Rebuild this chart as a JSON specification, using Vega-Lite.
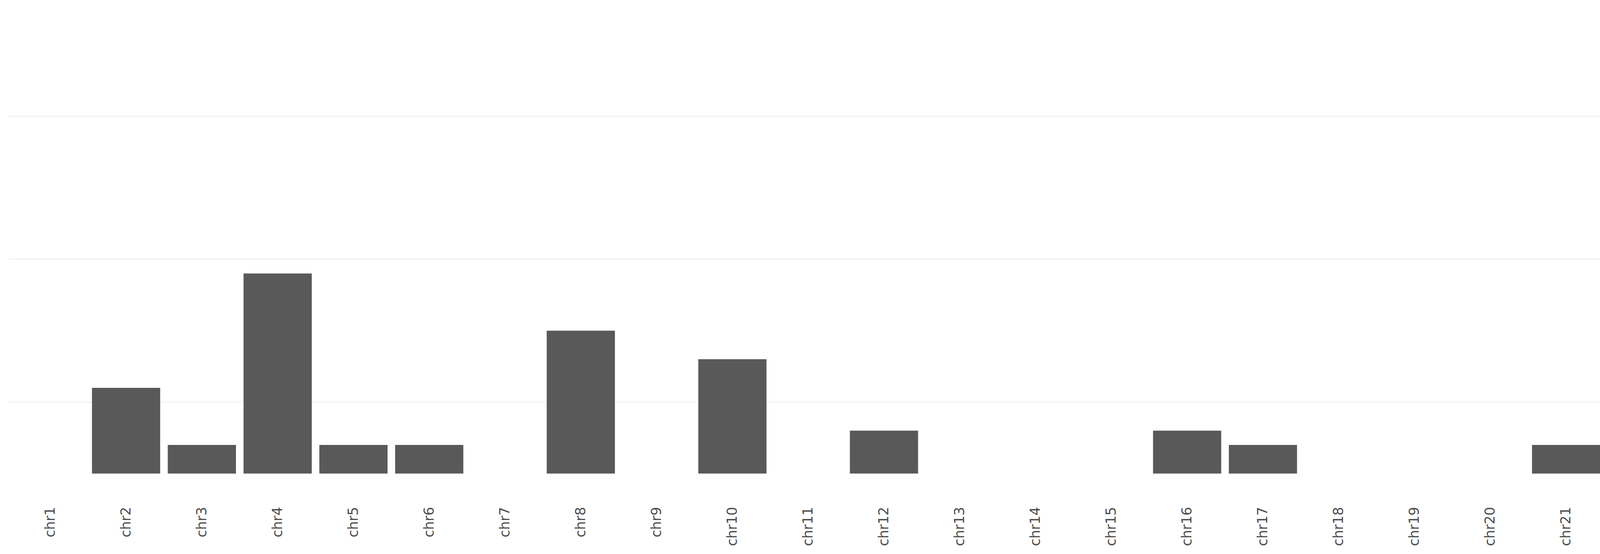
{
  "$schema": "https://vega.github.io/schema/vega-lite/v6.json",
  "autosize": {"type": "fit", "contains": "padding"},
  "width": 4724,
  "height": 1417,
  "padding": {"left": 20, "top": 60, "right": 24, "bottom": 20},
  "data": {
    "values": [
      {"chr": "chr1", "n": 0}, {"chr": "chr2", "n": 6}, {"chr": "chr3", "n": 2},
      {"chr": "chr4", "n": 14}, {"chr": "chr5", "n": 2}, {"chr": "chr6", "n": 2},
      {"chr": "chr7", "n": 0}, {"chr": "chr8", "n": 10}, {"chr": "chr9", "n": 0},
      {"chr": "chr10", "n": 8}, {"chr": "chr11", "n": 0}, {"chr": "chr12", "n": 3},
      {"chr": "chr13", "n": 0}, {"chr": "chr14", "n": 0}, {"chr": "chr15", "n": 0},
      {"chr": "chr16", "n": 3}, {"chr": "chr17", "n": 2}, {"chr": "chr18", "n": 0},
      {"chr": "chr19", "n": 0}, {"chr": "chr20", "n": 0}, {"chr": "chr21", "n": 2},
      {"chr": "chr22", "n": 0}, {"chr": "chrX", "n": 0}, {"chr": "chrY", "n": 0}
    ]
  },
  "config": {
    "view": {"stroke": null},
    "axis": {"domain": false, "ticks": false, "labelFont": "DejaVu Sans", "titleFont": "DejaVu Sans", "labelColor": "#4d4d4d", "labelFontSize": 35, "titleFontSize": 44, "titleFontWeight": "normal", "titleColor": "#000000"}
  },
  "layer": [
    {
      "mark": {"type": "rule"},
      "data": {"values": [{"v": 5}, {"v": 15}, {"v": 25}]},
      "encoding": {
        "y": {"field": "v", "type": "quantitative", "scale": {"domain": [-1.5, 31.5], "nice": false}, "axis": null},
        "color": {"value": "#f2f2f2"},
        "strokeWidth": {"value": 3}
      }
    },
    {
      "mark": {"type": "bar", "color": "#595959"},
      "encoding": {
        "x": {"field": "chr", "type": "nominal", "sort": null, "title": null,
              "scale": {"paddingInner": 0.1, "paddingOuter": 0.1},
              "axis": {"labelAngle": -90, "labelPadding": 30, "grid": false}},
        "y": {"field": "n", "type": "quantitative", "title": "Number of SVs",
              "scale": {"domain": [-1.5, 31.5], "nice": false},
              "axis": {"values": [0, 10, 20, 30], "grid": true, "gridColor": "#ebebeb", "gridWidth": 4, "labelPadding": 20, "titlePadding": 40}}
      }
    }
  ]
}
